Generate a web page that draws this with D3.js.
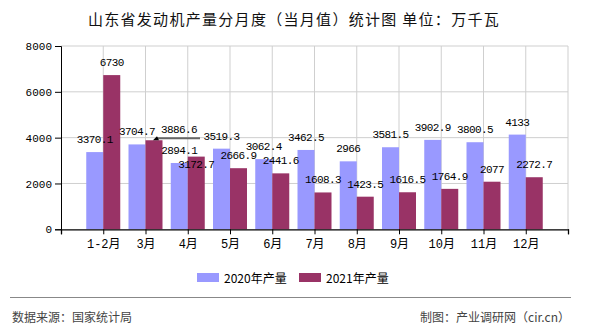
<!DOCTYPE html>
<html><head><meta charset="utf-8">
<script src="https://cdn.jsdelivr.net/npm/d3@7"></script>
<style>
html,body{margin:0;padding:0;background:#fff;}
svg{display:block;}
</style></head>
<body>
<svg id="c" width="590" height="330"></svg>
<script>
const title = "山东省发动机产量分月度（当月值）统计图 单位：万千瓦";
const categories = ["1-2月","3月","4月","5月","6月","7月","8月","9月","10月","11月","12月"];
const seriesNames = ["2020年产量","2021年产量"];
const values2020 = [3370.1,3704.7,2894.1,3519.3,3062.4,3462.5,2966,3581.5,3902.9,3800.5,4133];
const values2021 = [6730,3886.6,3172.7,2666.9,2441.6,1608.3,1423.5,1616.5,1764.9,2077,2272.7];
const labels2020 = ["3370.1","3704.7","2894.1","3519.3","3062.4","3462.5","2966","3581.5","3902.9","3800.5","4133"];
const labels2021 = ["6730","3886.6","3172.7","2666.9","2441.6","1608.3","1423.5","1616.5","1764.9","2077","2272.7"];
const yTicks = [0,2000,4000,6000,8000];
const source = "数据来源：国家统计局";
const credit = "制图：产业调研网（cir.cn）";
const colors = ["#9999ff","#993366"];

const svg = d3.select("#c");
const L=61, R=568, T=46, B=229.3;
const x = d3.scaleLinear().domain([0, categories.length+1]).range([L,R]);
const y = d3.scaleLinear().domain([0,8000]).range([B,T]);
const bw = 17;
const monoFont = "'Liberation Mono','Noto Sans CJK SC',monospace";

// title
svg.append("text").attr("x",294).attr("y",18).attr("text-anchor","middle")
  .attr("dominant-baseline","central").attr("font-family","'Noto Sans CJK SC',sans-serif")
  .attr("font-size",15).attr("letter-spacing","1.3").attr("fill","#111").text(title);

// grid
const g = svg.append("g");
yTicks.forEach(t=>{
  if(t===0) return;
  g.append("line").attr("x1",L).attr("x2",R).attr("y1",y(t)).attr("y2",y(t))
   .attr("stroke","#cfcfcf").attr("stroke-width",1);
});
categories.forEach((c,i)=>{
  g.append("line").attr("x1",x(i+1)).attr("x2",x(i+1)).attr("y1",T).attr("y2",B)
   .attr("stroke","#cfcfcf").attr("stroke-width",1);
});
g.append("line").attr("x1",R).attr("x2",R).attr("y1",T).attr("y2",B)
   .attr("stroke","#cfcfcf").attr("stroke-width",1);

// bars
const series = [values2020, values2021];
series.forEach((vals,s)=>{
  svg.append("g").selectAll("rect").data(vals).join("rect")
    .attr("x",(d,i)=>x(i+1) - bw + s*bw)
    .attr("y",d=>y(d)).attr("width",bw).attr("height",d=>B-y(d))
    .attr("fill",colors[s]);
});

// axes
const yAxis = d3.axisLeft(y).tickValues(yTicks).tickSize(6).tickPadding(3).tickFormat(d3.format("d"));
const ya = svg.append("g").attr("transform",`translate(${L},0)`).call(yAxis);
ya.select(".domain").attr("stroke","#000");
ya.selectAll(".tick line").attr("stroke","#000");
ya.selectAll("text").attr("font-family",monoFont).attr("font-size",11).attr("fill","#000");

const xTickVals = d3.range(0, categories.length+2);
const xAxis = d3.axisBottom(x).tickValues(xTickVals).tickSize(5).tickPadding(5)
  .tickFormat(d => (d>=1 && d<=categories.length) ? categories[d-1] : "");
const xa = svg.append("g").attr("transform",`translate(0,${B})`).call(xAxis);
xa.select(".domain").attr("stroke","#000").attr("stroke-width",1.3);
xa.selectAll(".tick line").attr("stroke","#000");
xa.selectAll("text").attr("font-family",monoFont).attr("font-size",12).attr("fill","#000");

// value labels
const lab = svg.append("g").attr("font-family",monoFont).attr("font-size",11)
  .attr("fill","#000").attr("text-anchor","middle").attr("letter-spacing","-0.6");
// label displacement (layout adjustments to avoid overlap)
const adjust = {"1-1":{dx:25,dy:-10,leader:true},"1-2":{dx:0,dy:8}};
const allLabels = [labels2020, labels2021];
series.forEach((vals,s)=>{
  vals.forEach((v,i)=>{
    const cx = x(i+1) - bw/2 + s*bw;
    const top = y(v);
    const a = adjust[s+"-"+i];
    let tx = cx, ty = top-12;
    if(a){
      if(a.leader){
        tx = cx + a.dx; ty = top + a.dy;
        lab.append("line").attr("x1",cx+2).attr("x2",cx+46).attr("y1",top-2).attr("y2",top-2)
          .attr("stroke","#666").attr("stroke-width",2);
        lab.append("path").attr("d",`M${cx-1},${top}L${cx+3},${top-4}L${cx+5},${top}Z`).attr("fill","#000");
      } else { ty = top + a.dy; }
    }
    lab.append("text").attr("x",tx).attr("y",ty).attr("dominant-baseline","central").text(allLabels[s][i]);
  });
});

// legend
const lg = svg.append("g");
const legX = [197, 299];
seriesNames.forEach((n,s)=>{
  lg.append("rect").attr("x",legX[s]).attr("y",273).attr("width",22).attr("height",9).attr("fill",colors[s]);
  lg.append("text").attr("x",legX[s]+27).attr("y",277.5).attr("dominant-baseline","central")
    .attr("font-family","'Noto Sans CJK SC',sans-serif").attr("font-size",12).attr("fill","#000").text(n);
});

// footer
svg.append("line").attr("x1",10).attr("x2",571).attr("y1",297.5).attr("y2",297.5).attr("stroke","#888").attr("stroke-width",1);
svg.append("text").attr("x",12).attr("y",316).attr("dominant-baseline","central")
  .attr("font-family","'Noto Sans CJK SC',sans-serif").attr("font-size",12).attr("fill","#444").text(source);
svg.append("text").attr("x",570).attr("y",316).attr("text-anchor","end").attr("dominant-baseline","central")
  .attr("font-family","'Noto Sans CJK SC',sans-serif").attr("font-size",12).attr("fill","#444").text(credit);
</script>
</body></html>
